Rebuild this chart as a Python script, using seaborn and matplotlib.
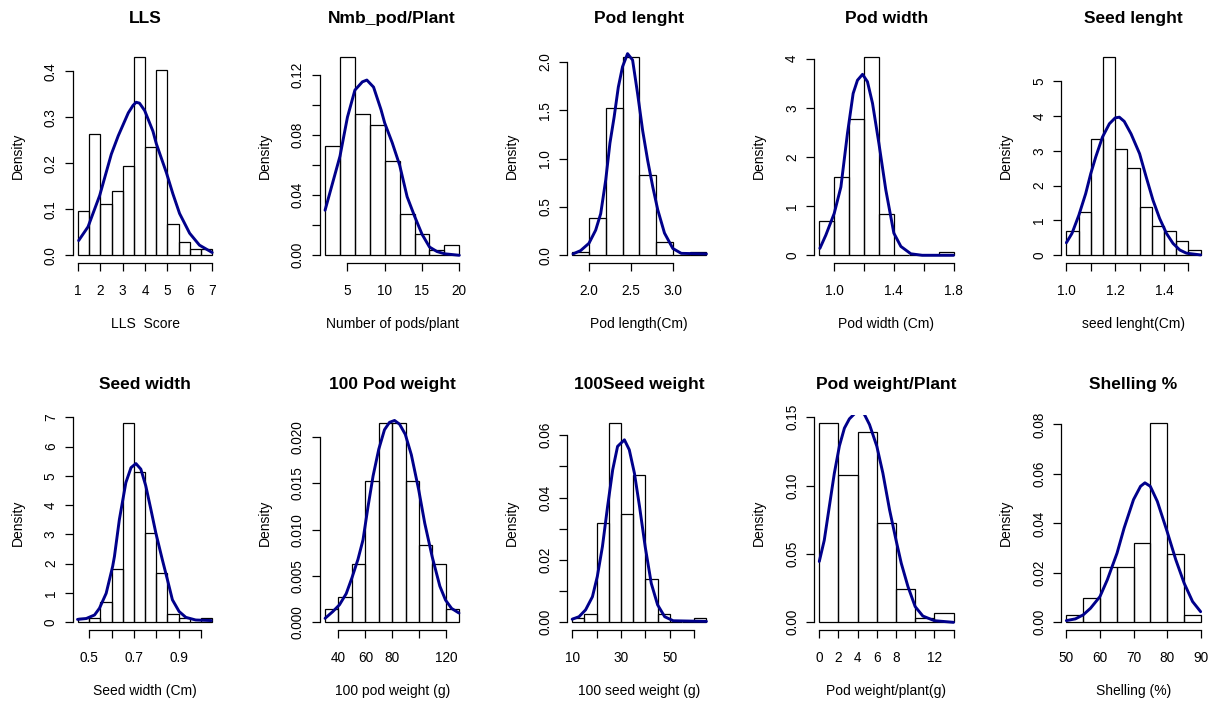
import matplotlib
matplotlib.use("Agg")
import matplotlib.pyplot as plt
import seaborn as sns
import numpy as np
import pandas as pd

# ---------------- data ----------------
titles = ["LLS", "Nmb_pod/Plant", "Pod lenght", "Pod width", "Seed lenght",
          "Seed width", "100 Pod weight", "100Seed weight", "Pod weight/Plant", "Shelling %"]
xlabels = ["LLS  Score", "Number of pods/plant", "Pod length(Cm)", "Pod width (Cm)", "seed lenght(Cm)",
           "Seed width (Cm)", "100 pod weight (g)", "100 seed weight (g)", "Pod weight/plant(g)", "Shelling (%)"]

# histogram bin edges and densities
lls_edges = [1.0, 1.5, 2.0, 2.5, 3.0, 3.5, 4.0, 4.5, 5.0, 5.5, 6.0, 6.5, 7.0]
lls_dens = [0.097, 0.264, 0.111, 0.139, 0.194, 0.431, 0.236, 0.403, 0.069, 0.028, 0.014, 0.014]
pods_edges = [2, 4, 6, 8, 10, 12, 14, 16, 18, 20]
pods_dens = [0.0729, 0.1319, 0.0938, 0.0868, 0.0625, 0.0278, 0.0139, 0.0035, 0.0069]
podlen_edges = [1.8, 2.0, 2.2, 2.4, 2.6, 2.8, 3.0, 3.2, 3.4]
podlen_dens = [0.035, 0.382, 1.528, 2.049, 0.833, 0.139, 0.0, 0.035]
podwid_edges = [0.9, 1.0, 1.1, 1.2, 1.3, 1.4, 1.5, 1.6, 1.7, 1.8]
podwid_dens = [0.694, 1.597, 2.778, 4.028, 0.833, 0.0, 0.0, 0.0, 0.069]
seedlen_edges = [1.0, 1.05, 1.1, 1.15, 1.2, 1.25, 1.3, 1.35, 1.4, 1.45, 1.5, 1.55]
seedlen_dens = [0.694, 1.25, 3.333, 5.694, 3.056, 2.5, 1.389, 0.833, 0.694, 0.417, 0.139]
seedwid_edges = [0.45, 0.5, 0.55, 0.6, 0.65, 0.7, 0.75, 0.8, 0.85, 0.9, 0.95, 1.0, 1.05]
seedwid_dens = [0.139, 0.139, 0.694, 1.806, 6.806, 5.139, 3.056, 1.667, 0.278, 0.139, 0.0, 0.139]
podw100_edges = [30, 40, 50, 60, 70, 80, 90, 100, 110, 120, 130]
podw100_dens = [0.00139, 0.00278, 0.00625, 0.01528, 0.02153, 0.02153, 0.01528, 0.00833, 0.00625, 0.00139]
seedw100_edges = [10, 15, 20, 25, 30, 35, 40, 45, 50, 55, 60, 65]
seedw100_dens = [0.00139, 0.00278, 0.0319, 0.0639, 0.0347, 0.0472, 0.0139, 0.00278, 0.0, 0.0, 0.00139]
podwpl_edges = [0, 2, 4, 6, 8, 10, 12, 14]
podwpl_dens = [0.1458, 0.1076, 0.1389, 0.0729, 0.0243, 0.0035, 0.0069]
shell_edges = [50, 55, 60, 65, 70, 75, 80, 85, 90]
shell_dens = [0.00278, 0.00972, 0.0222, 0.0222, 0.0319, 0.0806, 0.0278, 0.00278]

# density curves
lls_cx = [1.03, 1.45, 1.97, 2.49, 2.8, 2.98, 3.25, 3.46, 3.6, 3.75, 3.98, 4.35, 4.5, 4.95, 5.24, 5.54, 5.99, 6.43, 7.0]
lls_cy = [0.032, 0.062, 0.13, 0.22, 0.26, 0.28, 0.31, 0.326, 0.333, 0.331, 0.315, 0.27, 0.243, 0.18, 0.134, 0.091, 0.048, 0.022, 0.006]
pods_cx = [2, 3, 4, 5, 6, 7, 7.6, 8.5, 9.5, 10, 11, 12, 13, 14, 15, 16, 17, 18, 20]
pods_cy = [0.030, 0.048, 0.066, 0.092, 0.110, 0.1155, 0.1167, 0.112, 0.097, 0.088, 0.075, 0.06, 0.039, 0.026, 0.014, 0.0055, 0.0025, 0.001, 0.0]
podlen_cx = [1.81, 1.9, 2.0, 2.08, 2.14, 2.2, 2.25, 2.3, 2.35, 2.4, 2.46, 2.52, 2.58, 2.64, 2.7, 2.76, 2.82, 2.9, 3.0, 3.1, 3.4]
podlen_cy = [0.014, 0.048, 0.124, 0.26, 0.43, 0.78, 1.16, 1.43, 1.74, 1.95, 2.086, 2.02, 1.67, 1.29, 0.98, 0.71, 0.47, 0.23, 0.07, 0.02, 0.014]
podwid_cx = [0.904, 0.944, 1.0, 1.045, 1.089, 1.127, 1.156, 1.19, 1.223, 1.257, 1.30, 1.346, 1.40, 1.447, 1.514, 1.59, 1.8]
podwid_cy = [0.14, 0.41, 0.85, 1.39, 2.48, 3.29, 3.56, 3.68, 3.53, 3.09, 2.27, 1.33, 0.45, 0.18, 0.03, 0.0, 0.0]
seedlen_cx = [1.0, 1.023, 1.051, 1.079, 1.1, 1.12, 1.148, 1.176, 1.2, 1.217, 1.237, 1.265, 1.3, 1.327, 1.355, 1.382, 1.41, 1.437, 1.465, 1.492, 1.55]
seedlen_cy = [0.36, 0.63, 1.15, 1.77, 2.35, 2.82, 3.40, 3.78, 3.95, 3.97, 3.85, 3.49, 2.92, 2.25, 1.58, 1.06, 0.63, 0.34, 0.15, 0.06, 0.01]
seedwid_cx = [0.448, 0.487, 0.524, 0.546, 0.576, 0.605, 0.613, 0.635, 0.664, 0.687, 0.709, 0.731, 0.753, 0.776, 0.798, 0.827, 0.85, 0.872, 0.902, 0.932, 0.976, 1.046]
seedwid_cy = [0.10, 0.13, 0.25, 0.48, 0.99, 1.91, 2.25, 3.51, 4.77, 5.28, 5.42, 5.23, 4.66, 3.85, 3.05, 2.14, 1.45, 0.77, 0.37, 0.17, 0.08, 0.06]
podw100_cx = [30, 35.75, 40.75, 45.75, 50, 54.5, 58.25, 62, 65.75, 70, 74.25, 78, 81.75, 85.5, 89.75, 94.25, 99.75, 104.25, 109.75, 115.5, 119.75, 124.25, 129.75]
podw100_cy = [0.00043, 0.00116, 0.0019, 0.0031, 0.0048, 0.0068, 0.0089, 0.0125, 0.0158, 0.0187, 0.0208, 0.0216, 0.0218, 0.0214, 0.0203, 0.0181, 0.0143, 0.0107, 0.0071, 0.0039, 0.0024, 0.0015, 0.001]
seedw100_cx = [10, 12.8, 15.5, 18.3, 20.3, 22.4, 24.5, 26.6, 28.6, 31.4, 33.4, 35.5, 37.6, 39.9, 42.4, 45, 47.9, 51.4, 65]
seedw100_cy = [0.001, 0.0018, 0.004, 0.0082, 0.0147, 0.0243, 0.0371, 0.0489, 0.0564, 0.0585, 0.0553, 0.0478, 0.0371, 0.0243, 0.0125, 0.0056, 0.0018, 0.0005, 0.0003]
podwpl_cx = [0, 0.52, 1.05, 1.57, 2.1, 2.62, 3.14, 3.67, 4.19, 4.71, 5.24, 6.0, 6.63, 7.33, 8.0, 8.55, 9.25, 10.0, 10.8, 12.0, 14.0]
podwpl_cy = [0.0445, 0.060, 0.0848, 0.109, 0.129, 0.142, 0.1488, 0.1525, 0.155, 0.152, 0.1446, 0.1288, 0.1092, 0.0823, 0.0603, 0.0432, 0.0261, 0.0115, 0.0046, 0.0012, 0.0]
shell_cx = [50, 52.7, 55, 57.2, 60, 62.2, 65.1, 67.2, 70, 72.1, 73.4, 75, 77.1, 80, 82.6, 85.1, 87.6, 90]
shell_cy = [0.0007, 0.0014, 0.003, 0.0057, 0.0104, 0.0172, 0.028, 0.0381, 0.0496, 0.055, 0.0564, 0.055, 0.0489, 0.0368, 0.0253, 0.0158, 0.0084, 0.0043]

# ticks and tick labels
lls_xt, lls_xtl = [1, 2, 3, 4, 5, 6, 7], ["1", "2", "3", "4", "5", "6", "7"]
lls_yt, lls_ytl = [0.0, 0.1, 0.2, 0.3, 0.4], ["0.0", "0.1", "0.2", "0.3", "0.4"]
pods_xt, pods_xtl = [5, 10, 15, 20], ["5", "10", "15", "20"]
pods_yt, pods_ytl = [0.0, 0.02, 0.04, 0.06, 0.08, 0.10, 0.12], ["0.00", "", "0.04", "", "0.08", "", "0.12"]
podlen_xt, podlen_xtl = [2.0, 2.5, 3.0], ["2.0", "2.5", "3.0"]
podlen_yt, podlen_ytl = [0.0, 0.5, 1.0, 1.5, 2.0], ["0.0", "0.5", "1.0", "1.5", "2.0"]
podwid_xt, podwid_xtl = [1.0, 1.2, 1.4, 1.6, 1.8], ["1.0", "", "1.4", "", "1.8"]
podwid_yt, podwid_ytl = [0, 1, 2, 3, 4], ["0", "1", "2", "3", "4"]
seedlen_xt, seedlen_xtl = [1.0, 1.1, 1.2, 1.3, 1.4, 1.5], ["1.0", "", "1.2", "", "1.4", ""]
seedlen_yt, seedlen_ytl = [0, 1, 2, 3, 4, 5], ["0", "1", "2", "3", "4", "5"]
seedwid_xt, seedwid_xtl = [0.5, 0.6, 0.7, 0.8, 0.9, 1.0], ["0.5", "", "0.7", "", "0.9", ""]
seedwid_yt, seedwid_ytl = [0, 1, 2, 3, 4, 5, 6, 7], ["0", "1", "2", "3", "4", "5", "6", "7"]
podw100_xt, podw100_xtl = [40, 60, 80, 100, 120], ["40", "60", "80", "", "120"]
podw100_yt, podw100_ytl = [0.0, 0.005, 0.010, 0.015, 0.020], ["0.000", "0.005", "0.010", "0.015", "0.020"]
seedw100_xt, seedw100_xtl = [10, 20, 30, 40, 50, 60], ["10", "", "30", "", "50", ""]
seedw100_yt, seedw100_ytl = [0.0, 0.01, 0.02, 0.03, 0.04, 0.05, 0.06], ["0.00", "", "0.02", "", "0.04", "", "0.06"]
podwpl_xt, podwpl_xtl = [0, 2, 4, 6, 8, 10, 12, 14], ["0", "2", "4", "6", "8", "", "12", ""]
podwpl_yt, podwpl_ytl = [0.0, 0.05, 0.10, 0.15], ["0.00", "0.05", "0.10", "0.15"]
shell_xt, shell_xtl = [50, 60, 70, 80, 90], ["50", "60", "70", "80", "90"]
shell_yt, shell_ytl = [0.0, 0.02, 0.04, 0.06, 0.08], ["0.00", "0.02", "0.04", "0.06", "0.08"]

panels = [
    (lls_edges, lls_dens, lls_cx, lls_cy, lls_xt, lls_xtl, lls_yt, lls_ytl),
    (pods_edges, pods_dens, pods_cx, pods_cy, pods_xt, pods_xtl, pods_yt, pods_ytl),
    (podlen_edges, podlen_dens, podlen_cx, podlen_cy, podlen_xt, podlen_xtl, podlen_yt, podlen_ytl),
    (podwid_edges, podwid_dens, podwid_cx, podwid_cy, podwid_xt, podwid_xtl, podwid_yt, podwid_ytl),
    (seedlen_edges, seedlen_dens, seedlen_cx, seedlen_cy, seedlen_xt, seedlen_xtl, seedlen_yt, seedlen_ytl),
    (seedwid_edges, seedwid_dens, seedwid_cx, seedwid_cy, seedwid_xt, seedwid_xtl, seedwid_yt, seedwid_ytl),
    (podw100_edges, podw100_dens, podw100_cx, podw100_cy, podw100_xt, podw100_xtl, podw100_yt, podw100_ytl),
    (seedw100_edges, seedw100_dens, seedw100_cx, seedw100_cy, seedw100_xt, seedw100_xtl, seedw100_yt, seedw100_ytl),
    (podwpl_edges, podwpl_dens, podwpl_cx, podwpl_cy, podwpl_xt, podwpl_xtl, podwpl_yt, podwpl_ytl),
    (shell_edges, shell_dens, shell_cx, shell_cy, shell_xt, shell_xtl, shell_yt, shell_ytl),
]

# ---------------- styling ----------------
sns.set_style("white")
plt.rcParams["font.family"] = ["Liberation Sans", "DejaVu Sans"]
plt.rcParams["text.color"] = "black"

W, H = 1216, 704
fig = plt.figure(figsize=(W / 100, H / 100), dpi=100)
fig.patch.set_facecolor("white")

lefts = [72.6 + 247.1 * i for i in range(5)]
rows = [(49.3, 263.2), (415.0, 630.3)]
PW = 145.0

for k, (edges, dens, cx, cy, xt, xtl, yt, ytl) in enumerate(panels):
    r, c = divmod(k, 5)
    top, bot = rows[r]
    ph = bot - top
    ax = fig.add_axes([lefts[c] / W, 1 - bot / H, PW / W, ph / H])
    ax.set_facecolor("white")
    e = [float(v) for v in edges]
    centers = [(a + b) / 2 for a, b in zip(e[:-1], e[1:])]
    hist_df = pd.DataFrame({"value": centers, "density": [float(v) for v in dens]})
    sns.histplot(data=hist_df, x="value", weights="density", bins=e, stat="count",
                 fill=False, color="black", linewidth=0.9, ax=ax)
    curve_df = pd.DataFrame({"x": cx, "y": cy})
    sns.lineplot(data=curve_df, x="x", y="y", color="#00008B", linewidth=2.1, ax=ax)
    span = e[-1] - e[0]
    ax.set_xlim(e[0] - 0.04 * span, e[-1] + 0.04 * span)
    ymax = max(dens)
    ax.set_ylim(-0.04 * ymax, 1.04 * ymax)
    ax.set_xticks(xt)
    ax.set_yticks(yt)
    sns.despine(ax=ax, trim=True)
    ax.set_xticklabels(xtl)
    ax.set_yticklabels(ytl)
    for s in ("left", "bottom"):
        ax.spines[s].set_color("black")
        ax.spines[s].set_linewidth(0.9)
    ax.tick_params(axis="both", which="major", bottom=True, left=True,
                   direction="out", length=6, width=0.9, color="black",
                   labelsize=9.8, labelcolor="black")
    ax.tick_params(axis="x", pad=9)
    ax.tick_params(axis="y", pad=4.6, labelrotation=90)
    for lbl in ax.get_yticklabels():
        lbl.set_va("center")
    ax.set_title(titles[k], fontsize=12.5, fontweight="bold", pad=19, color="black")
    ax.set_xlabel(xlabels[k], fontsize=10, color="black")
    ax.set_ylabel("Density", fontsize=10, color="black")
    ax.xaxis.set_label_coords(0.5, -54.0 / ph)
    ax.yaxis.set_label_coords(-48.0 / PW, 0.5)
    ax.grid(False)

fig.savefig("out.png", dpi=100, facecolor="white")
